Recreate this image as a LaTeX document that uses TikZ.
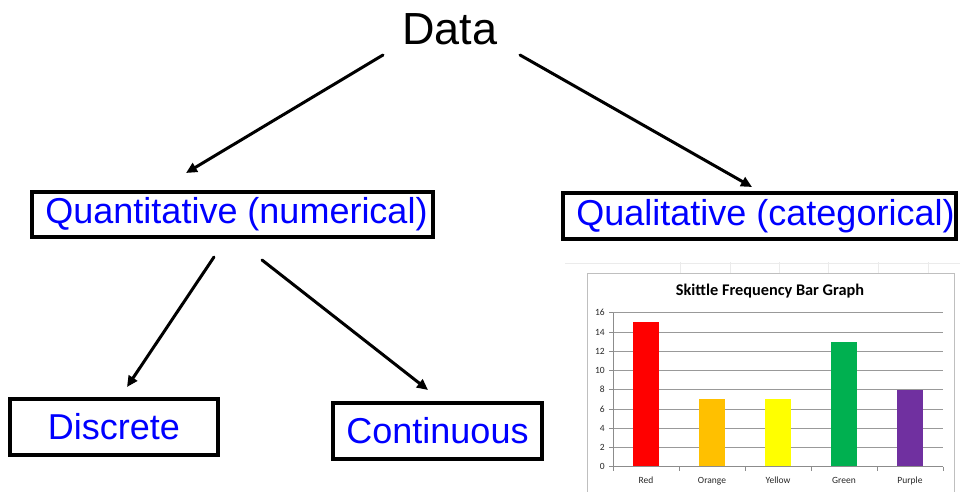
\documentclass[tikz,border=0pt]{standalone}
\usepackage{fontspec}
\setmainfont{Liberation Sans}
\newfontfamily\calibri{Carlito}
\usetikzlibrary{arrows.meta}
\definecolor{txtblue}{RGB}{0,0,255}
\definecolor{skred}{RGB}{255,0,0}
\definecolor{skorange}{RGB}{255,192,0}
\definecolor{skyellow}{RGB}{255,255,0}
\definecolor{skgreen}{RGB}{0,176,80}
\definecolor{skpurple}{RGB}{112,48,160}
\begin{document}
\begin{tikzpicture}[x=1pt,y=-1pt,
  box/.style={draw=black,line width=3.5pt,fill=white,inner sep=0pt,text=txtblue,font=\fontsize{36}{36}\selectfont},
  arr/.style={line width=3pt,line cap=round,-{Triangle[length=11pt,width=10pt]}},
  gridc/.style={draw=black!40,line width=0.9pt},
  axisc/.style={draw=black!45,line width=0.9pt},
  small/.style={font=\calibri\fontsize{9.5}{9.5}\selectfont,text=black!85,inner sep=0pt}]
\useasboundingbox (0,0) rectangle (960,492);
% faint spreadsheet cells
\foreach \x in {680,730,779,828,878,928} \draw[black!8,line width=0.6pt] (\x,262) -- (\x,273);
\draw[black!8,line width=0.6pt] (565,263) -- (960,263);
% top node
\node[font=\fontsize{45}{45}\selectfont,inner sep=0pt] (data) at (450,29) {Data};
% boxes
\node[box,minimum width=401pt,minimum height=45pt] (quant) at (232.5,214.5) {\hspace{8pt}Quantitative (numerical)};
\node[box,minimum width=393pt,minimum height=46pt] (qual) at (759.5,216) {\hspace{12pt}Qualitative (categorical)};
\node[box,minimum width=208pt,minimum height=56pt] (disc) at (114,427) {Discrete};
\node[box,minimum width=209pt,minimum height=56pt] (cont) at (437.5,431) {Continuous\hspace{6pt}};
% connector ends
\coordinate (a1s) at (383,55);
\coordinate (a1e) at (186,173);
\coordinate (a2s) at (520,55);
\coordinate (a2e) at (752,187);
\coordinate (b1s) at (214,257);
\coordinate (b1e) at (127,387);
\coordinate (b2s) at (262,260);
\coordinate (b2e) at (428,390);
\draw[arr] (a1s) -- (a1e);
\draw[arr] (a2s) -- (a2e);
\draw[arr] (b1s) -- (b1e);
\draw[arr] (b2s) -- (b2e);
% chart
\draw[black!25,line width=0.8pt] (587,273) -- (954,273) -- (954,492);
\draw[black!25,line width=0.8pt] (587,273) -- (587,492);
\node[font=\calibri\bfseries\fontsize{16.3}{16}\selectfont,inner sep=0pt] (title) at (770,291) {Skittle Frequency Bar Graph};
\foreach \v in {2,4,...,16} \draw[gridc] (613,{466.7-\v*9.625}) -- (943,{466.7-\v*9.625});
\foreach \v in {0,2,...,16} {
  \draw[axisc] (609,{466.7-\v*9.625}) -- (613,{466.7-\v*9.625});
  \node[small,anchor=east] at (605,{466.7-\v*9.625}) {\v};
}
\foreach \c/\h/\col/\lab in {0/15/skred/Red,1/7/skorange/Orange,2/7/skyellow/Yellow,3/13/skgreen/Green,4/8/skpurple/Purple} {
  \fill[\col] ({646+66*\c-13.3},466.7) rectangle ({646+66*\c+13.3},{466.7-\h*9.625});
  \node[small,anchor=base] at ({646+66*\c},483.5) {\lab};
}
\draw[axisc] (613,312.7) -- (613,466.7);
\draw[axisc] (613,466.7) -- (943,466.7);
\foreach \c in {0,...,5} \draw[axisc] ({613+66*\c},466.7) -- ({613+66*\c},471);
\end{tikzpicture}
\end{document}
